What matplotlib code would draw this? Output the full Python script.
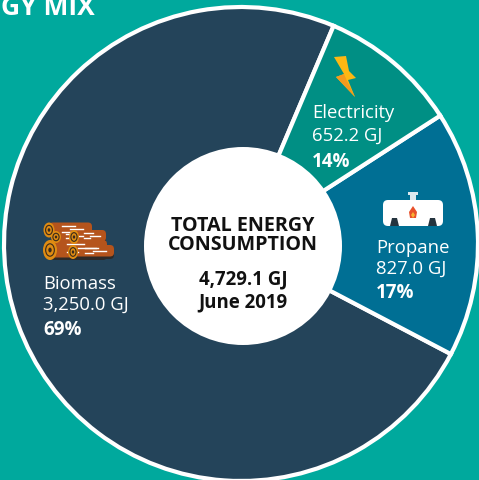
import matplotlib
matplotlib.use("Agg")
import matplotlib.pyplot as plt
from matplotlib.patches import Circle, Ellipse, FancyBboxPatch, Polygon, Rectangle

plt.rcParams["font.family"] = ["Open Sans", "DejaVu Sans"]

BG = "#00A99D"

# slice shares as drawn in the picture (the printed labels differ a bit)
categories = ["Biomass", "Propane", "Electricity"]
shares = [73.7, 16.8, 9.5]
values = ["3,250.0 GJ", "827.0 GJ", "652.2 GJ"]
percents = ["69%", "17%", "14%"]
colors = ["#24445A", "#006F94", "#008F84"]


def log(ax, cx, cy, right, w, h):
    # body + shadow, then the cut end on top
    ax.add_patch(FancyBboxPatch((cx, cy - h / 2 + 1), right - cx, h - 1,
                                boxstyle="round,pad=0,rounding_size=4", fc="#2E2A28", ec="none", zorder=5))
    ax.add_patch(FancyBboxPatch((cx, cy - h / 2), right - cx, h - 2.5,
                                boxstyle="round,pad=0,rounding_size=4", fc="#B5541C", ec="none", zorder=5))
    for f, dy, ln in [(0.3, -0.28, 0.3), (0.5, -0.1, 0.3), (0.3, 0.1, 0.2)]:
        x0 = cx + (right - cx) * f
        ax.plot([x0, x0 + (right - cx) * ln], [cy + dy * h, cy + dy * h], color="white", lw=1.0, zorder=5.1)
    ax.add_patch(Ellipse((cx, cy), w, h, fc="#E08C12", ec="none", zorder=5.2))
    ax.add_patch(Ellipse((cx, cy), w * 0.62, h * 0.62, fc="none", ec="#3A2A1C", lw=0.8, zorder=5.3))
    ax.add_patch(Ellipse((cx, cy), w * 0.24, h * 0.24, fc="#3A2A1C", ec="none", zorder=5.3))


fig = plt.figure(figsize=(4.79, 4.81), dpi=100, facecolor=BG)
ax = fig.add_axes([0, 0, 1, 1])
ax.set_xlim(0, 479)
ax.set_ylim(481, 0)
ax.axis("off")

# y axis is flipped, so counterclock=False runs counter-clockwise on screen
ax.pie(shares, colors=colors, center=(241, 245), radius=237, startangle=-67, counterclock=False,
       wedgeprops=dict(edgecolor="white", linewidth=3), frame=False)
ax.set_xlim(0, 479)
ax.set_ylim(481, 0)
ax.set_aspect("auto")

ax.add_patch(Circle((243, 247), 99, fc="white", ec="none", zorder=4))

ax.text(1, 15, "GY MIX", color="white", fontsize=19, fontweight="bold", va="baseline", ha="left", zorder=6)

center = dict(color="#111111", fontweight="bold", ha="center", va="baseline", zorder=6)
ax.text(243, 231, "TOTAL ENERGY", fontsize=14.2, **center)
ax.text(243, 250, "CONSUMPTION", fontsize=14.2, **center)
ax.text(243, 284, "4,729.1 GJ", fontsize=13.4, **center)
ax.text(243, 307, "June 2019", fontsize=13.4, **center)

label_x = [43, 376, 312]
name_y = [289, 253, 118]
value_y = [310, 274, 141]
pct_y = [335, 298, 167]
for i in range(3):
    ax.text(label_x[i], name_y[i], categories[i], color="white", fontsize=13.3, va="baseline", zorder=6)
    ax.text(label_x[i], value_y[i], values[i], color="white", fontsize=13.3, va="baseline", zorder=6)
    ax.text(label_x[i], pct_y[i], percents[i], color="white", fontsize=13.5, fontweight="bold", va="baseline", zorder=6)

# bolt
ax.add_patch(Polygon([(334, 58), (346, 57), (349, 72), (356, 79), (348, 81), (355, 98),
                      (336, 78), (344, 75)], fc="#FDB813", ec="none", zorder=5))
ax.add_patch(Polygon([(336, 78), (344, 75), (347, 82), (355, 98)], fc="#F39A1E", ec="none", zorder=5.1))

# propane tank
ax.add_patch(FancyBboxPatch((383, 201), 60, 26, boxstyle="round,pad=0,rounding_size=5",
                            fc="white", ec="none", zorder=5))
ax.add_patch(Rectangle((408, 193), 10, 3, fc="#DCE8EE", ec="none", zorder=5))
ax.add_patch(Rectangle((410, 196), 6, 5, fc="#DCE8EE", ec="none", zorder=5))
ax.add_patch(Polygon([(390, 227), (392, 219), (397, 219), (399, 227)], fc="#24343F", ec="none", zorder=5.1))
ax.add_patch(Polygon([(428, 227), (430, 219), (435, 219), (437, 227)], fc="#24343F", ec="none", zorder=5.1))
ax.add_patch(Polygon([(413, 207), (417, 213), (416, 219), (410, 219), (409, 213)], fc="#E8502A", ec="none", zorder=5.2))
ax.add_patch(Polygon([(413, 213), (415, 216), (413, 219), (411, 216)], fc="#F9B233", ec="none", zorder=5.3))

# logs, back to front
log(ax, 49, 231, 92, 11, 15)
log(ax, 56, 238, 90, 10, 12)
log(ax, 74, 238, 106, 10, 14)
log(ax, 50, 251, 107, 14, 20)
log(ax, 73, 253, 114, 10, 14)

fig.savefig("out.png", dpi=100, facecolor=BG)
